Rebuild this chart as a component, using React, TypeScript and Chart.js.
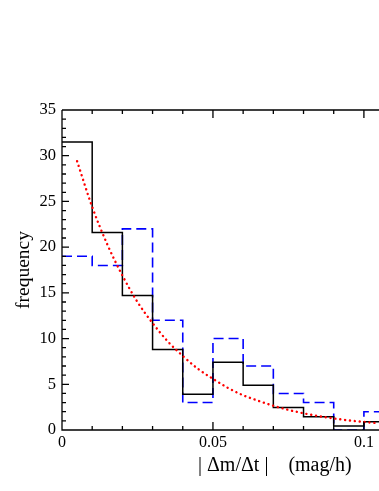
import React, { useEffect, useRef } from "react";
import { Chart, registerables } from "chart.js";

Chart.register(...registerables);

// Histogram bin edges (left edges, plus the final right edge)
const binEdges = [0, 0.01, 0.02, 0.03, 0.04, 0.05, 0.06, 0.07, 0.08, 0.09, 0.1, 0.11];
// Solid black histogram counts
const blackCounts = [31.5, 21.6, 14.7, 8.8, 3.9, 7.4, 4.9, 2.45, 1.45, 0.45, 0.9];
// Dashed blue histogram counts
const blueCounts = [19, 18, 22, 12, 3, 10, 7, 4, 3, 0, 2];
// Red dotted fit curve
const fitX = [0.005, 0.01, 0.015, 0.02, 0.025, 0.03, 0.035, 0.04, 0.045, 0.05, 0.055, 0.06, 0.065, 0.07, 0.075, 0.08, 0.085, 0.09, 0.095, 0.1, 0.105];
const fitY = [29.4, 24.4, 20.3, 16.9, 14.0, 11.7, 9.7, 8.1, 6.7, 5.6, 4.6, 3.8, 3.2, 2.65, 2.2, 1.83, 1.52, 1.27, 1.05, 0.88, 0.73];

// Axis ticks
const xMajorTicks = [0, 0.05, 0.1];
const xMinorTicks = [0.01, 0.02, 0.03, 0.04, 0.06, 0.07, 0.08, 0.09];
const yMajorTicks = [0, 5, 10, 15, 20, 25, 30, 35];
const yMinorTicks = [1, 2, 3, 4, 6, 7, 8, 9, 11, 12, 13, 14, 16, 17, 18, 19, 21, 22, 23, 24, 26, 27, 28, 29, 31, 32, 33, 34];

const xTitle = "| \u0394m/\u0394t |    (mag/h)";
const yTitle = "frequency";
const SERIF = '"Liberation Serif", "Times New Roman", serif';

function stepPoints(counts: number[]) {
  const pts = counts.map((c, i) => ({ x: binEdges[i], y: c }));
  pts.push({ x: binEdges[counts.length], y: counts[counts.length - 1] });
  return pts;
}

const axisPlugin = {
  id: "axesBox",
  afterDatasetsDraw(chart: any) {
    const { ctx, chartArea, scales } = chart;
    const { left, right, top, bottom } = chartArea;
    const xs = scales.x;
    const ys = scales.y;
    ctx.save();
    ctx.strokeStyle = "#000";
    ctx.lineWidth = 1.3;
    ctx.beginPath();
    ctx.moveTo(left, top);
    ctx.lineTo(left, bottom);
    ctx.lineTo(right, bottom);
    ctx.moveTo(left, top);
    ctx.lineTo(right, top);
    const xt = (v: number, len: number) => {
      const px = xs.getPixelForValue(v);
      ctx.moveTo(px, bottom);
      ctx.lineTo(px, bottom - len);
      ctx.moveTo(px, top);
      ctx.lineTo(px, top + len);
    };
    xMajorTicks.forEach((v) => xt(v, 8));
    xMinorTicks.forEach((v) => xt(v, 4));
    const yt = (v: number, len: number) => {
      const py = ys.getPixelForValue(v);
      ctx.moveTo(left, py);
      ctx.lineTo(left + len, py);
    };
    yMajorTicks.forEach((v) => yt(v, 7));
    yMinorTicks.forEach((v) => yt(v, 4));
    ctx.stroke();

    ctx.fillStyle = "#000";
    ctx.font = "20px " + SERIF;
    ctx.textAlign = "center";
    ctx.textBaseline = "middle";
    ctx.fillText(xTitle, xs.getPixelForValue(0.0705), 466);
    ctx.restore();
  },
};

export default function App() {
  const ref = useRef<HTMLCanvasElement>(null);
  useEffect(() => {
    if (!ref.current) return;
    const chart = new Chart(ref.current, {
      type: "line",
      data: {
        datasets: [
          {
            label: "fit",
            data: fitX.map((x, i) => ({ x, y: fitY[i] })),
            borderColor: "#ff0000",
            borderWidth: 2.4,
            borderDash: [0.1, 4.8],
            borderCapStyle: "round",
            pointRadius: 0,
            cubicInterpolationMode: "monotone",
            fill: false,
          },
          {
            label: "black",
            data: stepPoints(blackCounts),
            borderColor: "#000000",
            borderWidth: 1.5,
            stepped: true,
            pointRadius: 0,
            fill: false,
          },
          {
            label: "blue",
            data: stepPoints(blueCounts),
            borderColor: "#0000ff",
            borderWidth: 1.6,
            borderDash: [10, 5],
            stepped: true,
            pointRadius: 0,
            fill: false,
          },
        ],
      },
      options: {
        animation: false,
        responsive: false,
        devicePixelRatio: 1,
        layout: { padding: { top: 110, left: 0, right: 0, bottom: 0 } },
        plugins: {
          legend: { display: false },
          tooltip: { enabled: false },
        },
        scales: {
          x: {
            type: "linear",
            min: 0,
            max: 0.105,
            grid: { display: false, drawTicks: false },
            border: { display: false },
            ticks: {
              stepSize: 0.05,
              includeBounds: false,
              color: "#000",
              padding: 3,
              maxRotation: 0,
              font: { family: SERIF, size: 16 },
              callback: (v: any) => String(Math.round(Number(v) * 1000) / 1000),
            },
            afterFit: (s: any) => {
              s.height = 61;
            },
          },
          y: {
            type: "linear",
            min: 0,
            max: 35,
            grid: { display: false, drawTicks: false },
            border: { display: false },
            ticks: {
              stepSize: 5,
              color: "#000",
              padding: 6,
              font: { family: SERIF, size: 16.5 },
            },
            title: {
              display: true,
              text: yTitle,
              color: "#000",
              font: { family: SERIF, size: 19.5 },
              padding: { top: 12, bottom: 0 },
            },
            afterFit: (s: any) => {
              s.width = 62;
            },
          },
        },
      },
      plugins: [axisPlugin],
    });
    return () => chart.destroy();
  }, []);
  return (
    <div style={{ position: "fixed", left: 0, top: 0, width: 379, height: 491, background: "#fff" }}>
      <canvas ref={ref} width={379} height={491} style={{ display: "block" }} />
    </div>
  );
}
